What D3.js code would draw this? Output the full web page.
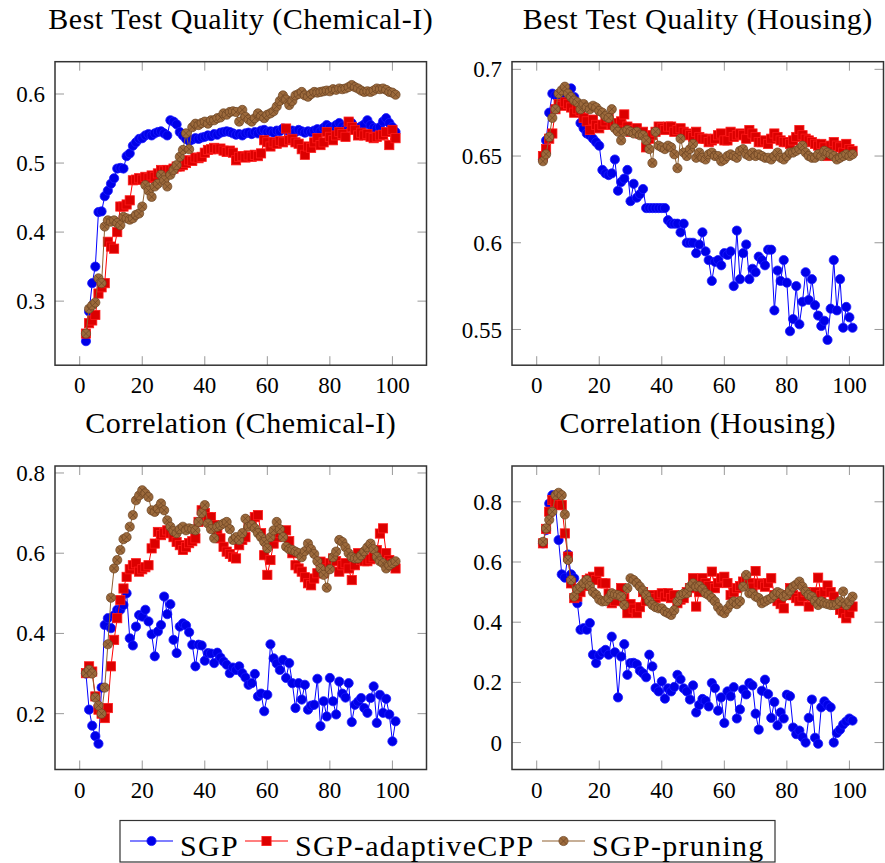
<!DOCTYPE html>
<html>
<head>
<meta charset="utf-8">
<script src="https://cdn.jsdelivr.net/npm/d3@7"></script>
<style>
  body { margin: 0; background: #fff; }
</style>
</head>
<body>
<div id="chart"></div>
<script>
// iteration index shared by all panels
const steps = [2,3,4,5,6,7,8,9,10,11,12,13,14,15,16,17,18,19,20,21,22,23,24,25,26,27,28,29,30,31,
  32,33,34,35,36,37,38,39,40,41,42,43,44,45,46,47,48,49,50,51,52,53,54,55,56,57,58,59,60,61,
  62,63,64,65,66,67,68,69,70,71,72,73,74,75,76,77,78,79,80,81,82,83,84,85,86,87,88,89,90,91,
  92,93,94,95,96,97,98,99,100,101];

const seriesNames = ["SGP", "SGP-adaptiveCPP", "SGP-pruning"];
const xTicks = [0, 20, 40, 60, 80, 100];

// Best Test Quality (Chemical-I)
const chemQualSGP = [0.242,0.285,0.326,0.350,0.429,0.430,0.452,0.460,0.470,0.478,
  0.492,0.493,0.492,0.510,0.514,0.525,0.530,0.535,0.536,0.540,
  0.542,0.540,0.543,0.545,0.546,0.543,0.540,0.562,0.560,0.556,
  0.545,0.540,0.535,0.532,0.534,0.536,0.535,0.537,0.538,0.540,
  0.539,0.542,0.541,0.544,0.545,0.546,0.545,0.543,0.541,0.542,
  0.540,0.543,0.544,0.542,0.545,0.543,0.547,0.548,0.545,0.546,
  0.544,0.547,0.546,0.550,0.548,0.546,0.547,0.545,0.548,0.546,
  0.544,0.546,0.545,0.547,0.549,0.546,0.551,0.555,0.552,0.548,
  0.555,0.558,0.553,0.550,0.556,0.558,0.552,0.549,0.553,0.556,
  0.562,0.555,0.551,0.550,0.552,0.560,0.565,0.558,0.552,0.545];
const chemQualCPP = [0.253,0.268,0.272,0.280,0.311,0.320,0.326,0.386,0.379,0.376,
  0.400,0.437,0.437,0.440,0.446,0.475,0.476,0.478,0.476,0.480,
  0.478,0.482,0.480,0.485,0.490,0.488,0.490,0.490,0.492,0.495,
  0.495,0.497,0.500,0.504,0.503,0.508,0.507,0.509,0.515,0.519,
  0.520,0.522,0.520,0.521,0.518,0.516,0.518,0.515,0.504,0.509,
  0.510,0.508,0.511,0.509,0.512,0.510,0.514,0.533,0.530,0.524,
  0.530,0.528,0.532,0.530,0.550,0.533,0.535,0.530,0.528,0.520,
  0.512,0.524,0.522,0.530,0.536,0.526,0.530,0.545,0.538,0.533,
  0.540,0.545,0.542,0.538,0.560,0.552,0.548,0.540,0.544,0.540,
  0.542,0.538,0.536,0.538,0.540,0.541,0.545,0.526,0.548,0.536];
const chemQualPrune = [0.253,0.289,0.294,0.298,0.333,0.326,0.408,0.417,0.415,0.417,
  0.413,0.410,0.422,0.420,0.418,0.420,0.425,0.427,0.437,0.468,
  0.460,0.451,0.466,0.470,0.483,0.475,0.466,0.483,0.490,0.497,
  0.509,0.519,0.543,0.520,0.552,0.557,0.555,0.558,0.560,0.557,
  0.562,0.562,0.565,0.566,0.572,0.570,0.574,0.575,0.574,0.560,
  0.577,0.567,0.563,0.560,0.565,0.572,0.568,0.565,0.570,0.572,
  0.575,0.582,0.590,0.598,0.592,0.584,0.590,0.598,0.600,0.603,
  0.598,0.596,0.600,0.603,0.602,0.603,0.604,0.605,0.604,0.607,
  0.606,0.608,0.607,0.608,0.610,0.613,0.610,0.608,0.605,0.603,
  0.604,0.603,0.605,0.608,0.607,0.608,0.606,0.603,0.602,0.599];

// Best Test Quality (Housing)
const housQualSGP = [0.648,0.659,0.675,0.686,0.685,0.684,0.683,0.685,0.687,0.689,
  0.684,0.676,0.669,0.666,0.663,0.662,0.660,0.658,0.656,0.642,
  0.640,0.639,0.640,0.648,0.630,0.635,0.637,0.642,0.624,0.634,
  0.626,0.628,0.631,0.620,0.620,0.620,0.620,0.620,0.620,0.620,
  0.613,0.611,0.611,0.611,0.606,0.611,0.600,0.600,0.600,0.594,
  0.599,0.606,0.595,0.590,0.578,0.589,0.590,0.587,0.594,0.593,
  0.595,0.575,0.607,0.579,0.594,0.599,0.579,0.585,0.583,0.592,
  0.590,0.587,0.596,0.596,0.561,0.584,0.578,0.590,0.577,0.549,
  0.556,0.575,0.553,0.566,0.583,0.567,0.579,0.564,0.558,0.552,
  0.555,0.544,0.562,0.590,0.561,0.579,0.551,0.563,0.557,0.551];
const housQualCPP = [0.650,0.654,0.660,0.663,0.677,0.680,0.679,0.681,0.680,0.678,
  0.675,0.677,0.676,0.672,0.670,0.665,0.671,0.668,0.666,0.668,
  0.670,0.672,0.668,0.669,0.666,0.670,0.674,0.667,0.664,0.665,
  0.666,0.663,0.664,0.655,0.660,0.662,0.664,0.667,0.666,0.665,
  0.667,0.667,0.664,0.665,0.666,0.664,0.663,0.662,0.661,0.664,
  0.661,0.660,0.660,0.658,0.659,0.660,0.662,0.663,0.659,0.659,
  0.664,0.661,0.662,0.663,0.662,0.660,0.665,0.663,0.661,0.658,
  0.658,0.659,0.657,0.660,0.663,0.661,0.659,0.658,0.658,0.657,
  0.659,0.661,0.665,0.662,0.660,0.659,0.658,0.657,0.656,0.657,
  0.655,0.650,0.656,0.658,0.656,0.655,0.652,0.657,0.654,0.653];
const housQualPrune = [0.647,0.651,0.661,0.672,0.677,0.686,0.688,0.690,0.686,0.684,
  0.682,0.681,0.677,0.680,0.678,0.677,0.679,0.678,0.676,0.675,
  0.673,0.672,0.677,0.666,0.664,0.659,0.664,0.665,0.664,0.663,
  0.664,0.662,0.662,0.659,0.654,0.646,0.664,0.656,0.655,0.654,
  0.656,0.655,0.651,0.643,0.660,0.652,0.650,0.654,0.657,0.649,
  0.652,0.649,0.648,0.651,0.652,0.650,0.650,0.647,0.648,0.650,
  0.651,0.650,0.649,0.653,0.654,0.651,0.650,0.652,0.650,0.651,
  0.650,0.649,0.649,0.648,0.650,0.652,0.649,0.648,0.650,0.652,
  0.652,0.653,0.654,0.656,0.652,0.650,0.649,0.649,0.651,0.650,
  0.653,0.652,0.651,0.650,0.648,0.649,0.650,0.651,0.650,0.651];

// Correlation (Chemical-I)
const chemCorrSGP = [0.300,0.210,0.170,0.144,0.125,0.265,0.421,0.438,0.413,0.445,
  0.459,0.459,0.471,0.500,0.388,0.370,0.417,0.446,0.442,0.459,
  0.430,0.398,0.343,0.405,0.421,0.492,0.448,0.473,0.384,0.351,
  0.417,0.425,0.420,0.403,0.372,0.318,0.372,0.370,0.332,0.351,
  0.350,0.326,0.352,0.340,0.330,0.322,0.301,0.315,0.309,0.318,
  0.301,0.290,0.272,0.276,0.299,0.243,0.250,0.206,0.247,0.373,
  0.338,0.325,0.309,0.334,0.289,0.326,0.276,0.214,0.276,0.235,
  0.272,0.210,0.220,0.222,0.287,0.169,0.231,0.193,0.289,0.231,
  0.198,0.280,0.250,0.240,0.276,0.179,0.222,0.230,0.239,0.214,
  0.202,0.239,0.268,0.177,0.247,0.202,0.237,0.198,0.131,0.181];
const chemCorrCPP = [0.301,0.318,0.305,0.243,0.210,0.200,0.189,0.214,0.318,0.384,
  0.438,0.483,0.512,0.541,0.560,0.570,0.575,0.554,0.560,0.565,
  0.570,0.612,0.624,0.653,0.645,0.650,0.657,0.650,0.640,0.628,
  0.620,0.608,0.615,0.625,0.630,0.637,0.678,0.707,0.700,0.690,
  0.690,0.670,0.650,0.637,0.616,0.604,0.598,0.591,0.587,0.620,
  0.633,0.640,0.670,0.680,0.690,0.695,0.650,0.595,0.546,0.583,
  0.624,0.640,0.650,0.655,0.657,0.630,0.600,0.570,0.562,0.554,
  0.540,0.525,0.520,0.537,0.550,0.579,0.550,0.562,0.575,0.587,
  0.580,0.554,0.570,0.575,0.562,0.533,0.570,0.600,0.583,0.580,
  0.580,0.585,0.590,0.608,0.649,0.662,0.600,0.583,0.575,0.562];
const chemCorrPrune = [0.301,0.309,0.300,0.240,0.220,0.200,0.265,0.373,0.489,0.562,
  0.583,0.608,0.635,0.640,0.666,0.695,0.732,0.744,0.757,0.749,
  0.740,0.707,0.703,0.712,0.724,0.707,0.682,0.666,0.655,0.650,
  0.660,0.666,0.657,0.662,0.660,0.657,0.678,0.700,0.720,0.674,
  0.660,0.637,0.666,0.670,0.674,0.678,0.660,0.633,0.640,0.633,
  0.650,0.686,0.666,0.670,0.662,0.650,0.640,0.628,0.612,0.640,
  0.657,0.678,0.660,0.640,0.616,0.610,0.608,0.604,0.600,0.590,
  0.605,0.624,0.610,0.598,0.580,0.562,0.546,0.514,0.560,0.590,
  0.604,0.633,0.628,0.615,0.600,0.590,0.587,0.587,0.595,0.605,
  0.615,0.624,0.610,0.591,0.580,0.575,0.562,0.570,0.575,0.580];

// Correlation (Housing)
const housCorrSGP = [0.662,0.706,0.794,0.822,0.790,0.673,0.559,0.548,0.625,0.559,
  0.546,0.463,0.375,0.380,0.375,0.397,0.292,0.264,0.290,0.300,
  0.308,0.292,0.352,0.300,0.150,0.286,0.327,0.225,0.264,0.265,
  0.260,0.239,0.230,0.217,0.292,0.253,0.181,0.170,0.203,0.146,
  0.180,0.170,0.185,0.225,0.210,0.180,0.170,0.143,0.190,0.100,
  0.125,0.145,0.139,0.120,0.198,0.181,0.106,0.150,0.065,0.170,
  0.154,0.184,0.080,0.110,0.176,0.160,0.198,0.190,0.096,0.043,
  0.172,0.209,0.161,0.082,0.135,0.057,0.100,0.080,0.159,0.154,
  0.050,0.028,0.040,0.018,0.000,0.082,0.143,0.016,-0.004,0.117,
  0.137,0.125,0.117,0.000,0.032,0.043,0.060,0.070,0.080,0.073];
const housCorrCPP = [0.662,0.710,0.767,0.806,0.800,0.789,0.789,0.695,0.618,0.529,
  0.480,0.485,0.500,0.520,0.540,0.545,0.551,0.540,0.568,0.529,
  0.529,0.495,0.463,0.470,0.490,0.513,0.480,0.430,0.460,0.445,
  0.430,0.450,0.500,0.470,0.485,0.490,0.480,0.490,0.496,0.485,
  0.496,0.480,0.490,0.463,0.475,0.480,0.500,0.513,0.546,0.452,
  0.500,0.546,0.530,0.520,0.568,0.513,0.530,0.546,0.551,0.530,
  0.490,0.500,0.513,0.520,0.535,0.545,0.530,0.515,0.570,0.529,
  0.525,0.518,0.530,0.546,0.490,0.470,0.460,0.446,0.490,0.513,
  0.490,0.480,0.470,0.485,0.500,0.452,0.485,0.500,0.548,0.490,
  0.500,0.522,0.500,0.485,0.460,0.441,0.430,0.413,0.430,0.452];
const housCorrPrune = [0.667,0.712,0.740,0.767,0.822,0.830,0.822,0.758,0.607,0.540,
  0.485,0.510,0.518,0.530,0.540,0.520,0.500,0.491,0.475,0.469,
  0.470,0.480,0.496,0.492,0.490,0.485,0.457,0.513,0.546,0.540,
  0.530,0.518,0.505,0.490,0.470,0.457,0.450,0.446,0.446,0.435,
  0.430,0.424,0.440,0.469,0.490,0.495,0.496,0.518,0.529,0.518,
  0.520,0.510,0.496,0.490,0.480,0.469,0.450,0.436,0.430,0.445,
  0.460,0.469,0.460,0.470,0.518,0.557,0.496,0.496,0.485,0.480,
  0.463,0.469,0.475,0.480,0.490,0.500,0.495,0.485,0.491,0.505,
  0.518,0.525,0.535,0.518,0.502,0.490,0.485,0.470,0.457,0.469,
  0.463,0.460,0.457,0.457,0.460,0.470,0.502,0.457,0.470,0.485];

const chemQualTicks = [0.3, 0.4, 0.5, 0.6];
const housQualTicks = [0.55, 0.6, 0.65, 0.7];
const chemCorrTicks = [0.2, 0.4, 0.6, 0.8];
const housCorrTicks = [0, 0.2, 0.4, 0.6, 0.8];

const width = 885;
const height = 863;

const plotW = 371.5;
const plotH = 303.5;

const serif = "'Liberation Serif', 'DejaVu Serif', serif";

const panels = [
  { title: "Best Test Quality (Chemical-I)", left: 55, top: 61.7, yDomain: [0.2072, 0.6468],
    yTicks: chemQualTicks, series: [chemQualSGP, chemQualCPP, chemQualPrune] },
  { title: "Best Test Quality (Housing)", left: 512, top: 61.7, yDomain: [0.5294, 0.7044],
    yTicks: housQualTicks, series: [housQualSGP, housQualCPP, housQualPrune] },
  { title: "Correlation (Chemical-I)", left: 55, top: 466, yDomain: [0.0608, 0.8174],
    yTicks: chemCorrTicks, series: [chemCorrSGP, chemCorrCPP, chemCorrPrune] },
  { title: "Correlation (Housing)", left: 512, top: 466, yDomain: [-0.0895, 0.919],
    yTicks: housCorrTicks, series: [housCorrSGP, housCorrCPP, housCorrPrune] },
];

// line colour, marker fill, marker stroke per series
const styles = [
  { line: "#0000ff", fill: "#0000e8", stroke: "#1a1aff", mark: "circle" },
  { line: "#ff0000", fill: "#dc0000", stroke: "#ff1a1a", mark: "square" },
  { line: "#8f6030", fill: "#9c6a3c", stroke: "#6b4422", mark: "otimes" },
];

const svg = d3.select("#chart")
  .append("svg")
  .attr("width", width)
  .attr("height", height);

function drawMark(g, style, cx, cy) {
  const r = 4.6;
  if (style.mark === "circle") {
    g.append("circle")
      .attr("cx", cx).attr("cy", cy).attr("r", r)
      .attr("fill", style.fill)
      .attr("stroke", style.stroke)
      .attr("stroke-width", 0.8);
  } else if (style.mark === "square") {
    g.append("rect")
      .attr("x", cx - r).attr("y", cy - r)
      .attr("width", 2 * r).attr("height", 2 * r)
      .attr("fill", style.fill)
      .attr("stroke", style.stroke)
      .attr("stroke-width", 0.8);
  } else {
    g.append("circle")
      .attr("cx", cx).attr("cy", cy).attr("r", r)
      .attr("fill", style.fill)
      .attr("stroke", style.stroke)
      .attr("stroke-width", 0.7);
    const d = r * 0.7;
    g.append("path")
      .attr("d", `M${cx - d},${cy - d}L${cx + d},${cy + d}M${cx - d},${cy + d}L${cx + d},${cy - d}`)
      .attr("stroke", style.stroke)
      .attr("stroke-width", 0.7);
  }
}

panels.forEach((panel) => {
  const x = d3.scaleLinear([-7.9, 110.9], [panel.left, panel.left + plotW]);
  const y = d3.scaleLinear(panel.yDomain, [panel.top + plotH, panel.top]);

  const g = svg.append("g");

  // title
  g.append("text")
    .attr("x", panel.left + plotW / 2)
    .attr("y", panel.top - 33)
    .attr("text-anchor", "middle")
    .attr("font-family", serif)
    .attr("font-size", "30px")
    .attr("letter-spacing", "0.5px")
    .text(panel.title);

  // ticks on all four sides, pointing inward
  const tickLen = 9;
  xTicks.forEach((t) => {
    g.append("line")
      .attr("x1", x(t)).attr("x2", x(t))
      .attr("y1", panel.top + plotH).attr("y2", panel.top + plotH - tickLen)
      .attr("stroke", "#999").attr("stroke-width", 1);
    g.append("line")
      .attr("x1", x(t)).attr("x2", x(t))
      .attr("y1", panel.top).attr("y2", panel.top + tickLen)
      .attr("stroke", "#999").attr("stroke-width", 1);
    g.append("text")
      .attr("x", x(t))
      .attr("y", panel.top + plotH + 28)
      .attr("text-anchor", "middle")
      .attr("font-family", serif)
      .attr("font-size", "23px")
      .text(t);
  });
  panel.yTicks.forEach((t) => {
    g.append("line")
      .attr("x1", panel.left).attr("x2", panel.left + tickLen)
      .attr("y1", y(t)).attr("y2", y(t))
      .attr("stroke", "#999").attr("stroke-width", 1);
    g.append("line")
      .attr("x1", panel.left + plotW).attr("x2", panel.left + plotW - tickLen)
      .attr("y1", y(t)).attr("y2", y(t))
      .attr("stroke", "#999").attr("stroke-width", 1);
    g.append("text")
      .attr("x", panel.left - 10)
      .attr("y", y(t))
      .attr("dy", "0.35em")
      .attr("text-anchor", "end")
      .attr("font-family", serif)
      .attr("font-size", "23px")
      .text(String(t));
  });

  // plots, clipped to the axis box
  const clipId = "clip" + panel.left + "_" + Math.round(panel.top);
  svg.append("clipPath").attr("id", clipId)
    .append("rect")
    .attr("x", panel.left).attr("y", panel.top)
    .attr("width", plotW).attr("height", plotH);
  const plots = g.append("g").attr("clip-path", `url(#${clipId})`);

  panel.series.forEach((values, si) => {
    const style = styles[si];
    const pts = steps.map((s, i) => [x(s), y(values[i])]);
    plots.append("path")
      .attr("d", d3.line()(pts))
      .attr("fill", "none")
      .attr("stroke", style.line)
      .attr("stroke-width", 1);
    const marks = plots.append("g");
    pts.forEach((p) => drawMark(marks, style, p[0], p[1]));
  });

  // axis frame
  g.append("rect")
    .attr("x", panel.left).attr("y", panel.top)
    .attr("width", plotW).attr("height", plotH)
    .attr("fill", "none")
    .attr("stroke", "#333")
    .attr("stroke-width", 1.5);
});

// legend
const legend = svg.append("g");
legend.append("rect")
  .attr("x", 120).attr("y", 820.5)
  .attr("width", 655).attr("height", 41.5)
  .attr("fill", "#fff")
  .attr("stroke", "#333")
  .attr("stroke-width", 1.2);

const legendX = [130, 245, 542];
seriesNames.forEach((name, i) => {
  const lx = legendX[i];
  const ly = 841;
  legend.append("line")
    .attr("x1", lx).attr("x2", lx + 43)
    .attr("y1", ly).attr("y2", ly)
    .attr("stroke", styles[i].line)
    .attr("stroke-width", 1.2);
  drawMark(legend, styles[i], lx + 21.5, ly);
  legend.append("text")
    .attr("x", lx + 50)
    .attr("y", ly + 15)
    .attr("font-family", serif)
    .attr("font-size", "30px")
    .attr("letter-spacing", "1.3px")
    .text(name);
});
</script>
</body>
</html>
